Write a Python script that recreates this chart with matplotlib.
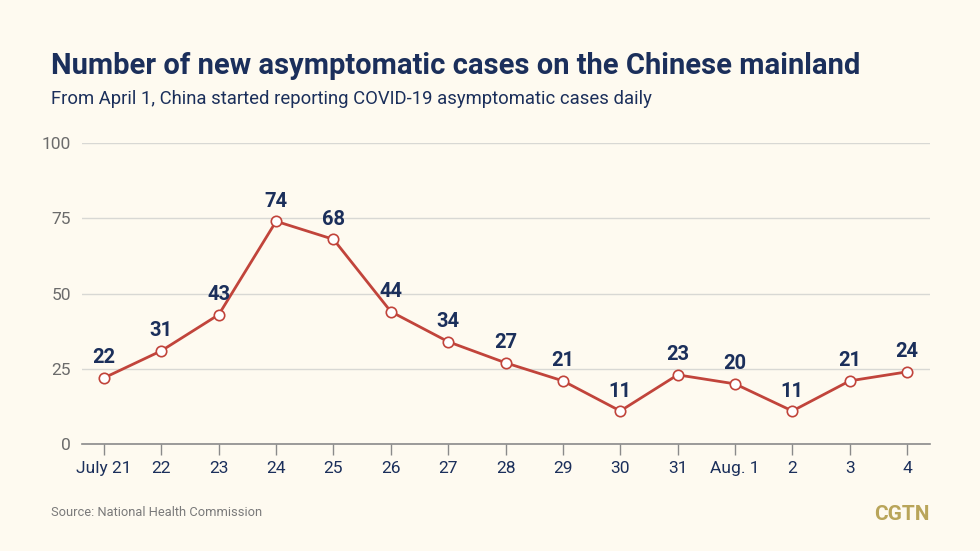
import matplotlib.pyplot as plt

# data
dates = ['July 21', '22', '23', '24', '25', '26', '27', '28', '29', '30',
         '31', 'Aug. 1', '2', '3', '4']
cases = [22, 31, 43, 74, 68, 44, 34, 27, 21, 11, 23, 20, 11, 21, 24]
yticks = [0, 25, 50, 75, 100]

bg = '#fefaf0'
navy = '#1b2f5b'
red = '#c1443b'
grey = '#6b6b6b'

plt.rcParams['font.family'] = ['Roboto', 'DejaVu Sans']

fig = plt.figure(figsize=(9.8, 5.51), dpi=100, facecolor=bg)
ax = fig.add_axes([0.0837, 0.194, 0.8653, 0.5465], facecolor=bg)

x = list(range(len(dates)))
ax.plot(x, cases, color=red, lw=2, marker='o', ms=7.5,
        mfc='white', mec=red, mew=1.2, zorder=3, clip_on=False)
for xi, v in zip(x, cases):
    ax.annotate(str(v), (xi, v), xytext=(0, 7.5), textcoords='offset points',
                ha='center', va='bottom', fontsize=14.5, fontweight='bold',
                color=navy)

ax.set_xlim(-0.384, 14.4)
ax.set_ylim(0, 100)
ax.set_yticks(yticks)
ax.set_xticks(x)
ax.set_xticklabels(dates)
ax.grid(axis='y', color='#d8d8d4', lw=1)
ax.set_axisbelow(True)
for s in ['top', 'right', 'left']:
    ax.spines[s].set_visible(False)
ax.spines['bottom'].set_color('#8a8a8a')
ax.spines['bottom'].set_linewidth(1.2)
ax.tick_params(axis='y', length=0, pad=8, labelsize=12.5, labelcolor=grey)
ax.tick_params(axis='x', length=8, width=1, color='#8a8a8a', pad=4,
               labelsize=12.5, labelcolor=navy)

fig.text(0.052, 0.866, 'Number of new asymptomatic cases on the Chinese mainland',
         fontsize=21, fontweight='bold', color=navy, va='baseline')
fig.text(0.052, 0.812, 'From April 1, China started reporting COVID-19 asymptomatic cases daily',
         fontsize=13.3, color=navy, va='baseline')
fig.text(0.052, 0.064, 'Source: National Health Commission',
         fontsize=9.3, color='#7a7a7a', va='baseline')
fig.text(0.949, 0.057, 'CGTN', fontsize=15, fontweight='bold',
         color='#b9a55a', ha='right', va='baseline')

fig.savefig('out.png', dpi=100, facecolor=bg)
